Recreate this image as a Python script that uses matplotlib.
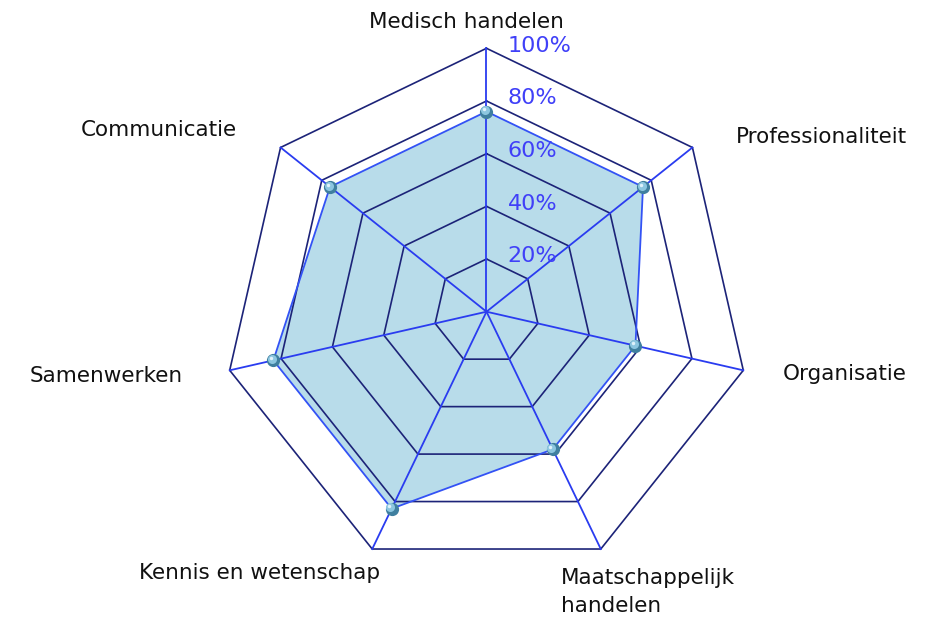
import numpy as np
import matplotlib
matplotlib.use("Agg")
import matplotlib.pyplot as plt

categories = ["Medisch handelen", "Professionaliteit", "Organisatie",
              "Maatschappelijk\nhandelen", "Kennis en wetenschap",
              "Samenwerken", "Communicatie"]
values = [76, 76, 58, 58, 83, 83, 76]
tick_values = [20, 40, 60, 80, 100]
tick_labels = ["20%", "40%", "60%", "80%", "100%"]

W, H = 926, 622
fig = plt.figure(figsize=(W / 100, H / 100), dpi=100)
ax = fig.add_axes([0, 0, 1, 1])
ax.set_axis_off()

cx, cy = 486.5, 311.7   # centre in pixels (from top)
scale = 2.634           # px per percent
ax.set_xlim(-cx / scale, (W - cx) / scale)
ax.set_ylim(-(H - cy) / scale, cy / scale)
ax.set_aspect("equal")

n = len(categories)
ang = np.pi / 2 - np.arange(n) * 2 * np.pi / n
ca, sa = np.cos(ang), np.sin(ang)

grid_col = "#1c2378"
spoke_col = "#2a3cf0"
edge_col = "#3352f5"
fill_col = "#b8dcea"

# data fill
v = np.array(values, dtype=float)
xs, ys = v * ca, v * sa
ax.fill(xs, ys, color=fill_col, zorder=1, lw=0)

# grid rings
for t in tick_values:
    gx = np.append(t * ca, t * ca[0])
    gy = np.append(t * sa, t * sa[0])
    ax.plot(gx, gy, color=grid_col, lw=1.2, zorder=2)

# spokes
for i in range(n):
    ax.plot([0, 100 * ca[i]], [0, 100 * sa[i]], color=spoke_col, lw=1.3, zorder=3)

# data edge
ax.plot(np.append(xs, xs[0]), np.append(ys, ys[0]), color=edge_col, lw=1.3, zorder=3)

# markers (sphere-like)
ax.plot(xs, ys, "o", ms=9.5, mfc="#3f7f9f", mec="none", zorder=4)
ax.plot(xs - 0.5, ys + 0.5, "o", ms=6.5, mfc="#8cc6e0", mec="none", zorder=5)
ax.plot(xs - 0.9, ys + 0.9, "o", ms=2.5, mfc="#dff2fb", mec="none", zorder=6)

# radial tick labels
for t, lab in zip(tick_values, tick_labels):
    ax.text(8.0, t + 1.0, lab, color="#4040f8", fontsize=16,
            ha="left", va="center", zorder=7)

# category labels (pixel positions)
def px(x, y):
    return x / W, 1 - y / H

lab_pos = [
    (466, 22, "center", "center"),
    (736, 137, "left", "center"),
    (783, 374, "left", "center"),
    (561, 592, "left", "center"),
    (380, 573, "right", "center"),
    (183, 376, "right", "center"),
    (237, 130, "right", "center"),
]
for name, (x, y, ha, va) in zip(categories, lab_pos):
    fx, fy = px(x, y)
    fig.text(fx, fy, name, fontsize=15.5, color="#111111", ha=ha, va=va,
             linespacing=1.45, multialignment="left")

fig.savefig("out.png", dpi=100, facecolor="white")
